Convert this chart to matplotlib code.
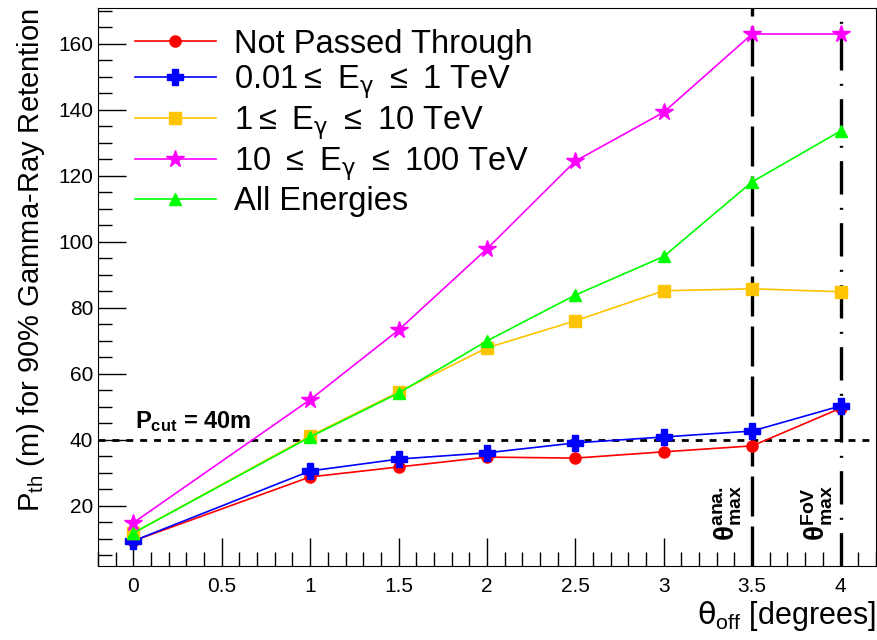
import matplotlib
matplotlib.use("Agg")
import matplotlib.pyplot as plt
from matplotlib.ticker import MultipleLocator

plt.rcParams['font.family'] = ['Liberation Sans', 'DejaVu Sans']
plt.rcParams['mathtext.fontset'] = 'custom'
plt.rcParams['mathtext.rm'] = 'Liberation Sans'
plt.rcParams['mathtext.it'] = 'DejaVu Sans'
plt.rcParams['mathtext.bf'] = 'Liberation Sans:bold'

# offset angle (degrees)
theta_off = [0, 1, 1.5, 2, 2.5, 3, 3.5, 4]

# P_th (m) per selection
not_passed = [9.4, 28.8, 31.8, 34.8, 34.5, 36.4, 38.2, 49.6]
e_low = [9.4, 30.6, 34.2, 36.1, 39.1, 40.9, 42.7, 50.3]
e_mid = [11.8, 41.2, 54.5, 67.9, 76.1, 85.2, 85.8, 84.9]
e_high = [14.9, 52.2, 73.3, 97.9, 124.5, 139.3, 163.0, 163.0]
all_e = [11.8, 40.9, 54.2, 70.0, 83.9, 95.6, 118.2, 133.6]

labels = ['Not Passed Through',
          r'0.01$\leq$ E$_{\gamma}$ $\leq$ 1 TeV',
          r'1$\leq$ E$_{\gamma}$ $\leq$ 10 TeV',
          r'10 $\leq$ E$_{\gamma}$ $\leq$ 100 TeV',
          'All Energies']

p_cut = 40
theta_ana = 3.5
theta_fov = 4

fig = plt.figure(figsize=(8.78, 6.4), dpi=100)
ax = fig.add_axes([0.1116, 0.1156, 0.886, 0.872])

ax.plot(theta_off, not_passed, color='#ff0000', lw=1.2, marker='o', ms=8, label=labels[0])
ax.plot(theta_off, e_low, color='#0000ff', lw=1.2, marker='P', ms=12, label=labels[1])
ax.plot(theta_off, e_mid, color='#ffc400', lw=1.2, marker='s', ms=8, label=labels[2])
ax.plot(theta_off, e_high, color='#ff00ff', lw=1.2, marker='*', ms=13, label=labels[3])
ax.plot(theta_off, all_e, color='#00ff00', lw=1.2, marker='^', ms=8, label=labels[4])

# cut and maximum angle lines
ax.axhline(p_cut, color='black', lw=2, ls=(0, (2.5, 2.5)), zorder=1)
ax.axvline(theta_ana, color='black', lw=2.4, ls=(0, (12, 3)), zorder=1)
ax.axvline(theta_fov, color='black', lw=2.4, ls=(0, (10, 4, 0.6, 4)), zorder=1)

ax.text(0.01, 43.5, r'$\mathbf{P_{cut}}$ = 40m', fontsize=17, fontweight='bold')
ax.text(3.36, 9.5, r'$\mathbf{\theta^{ana.}_{max}}$', fontsize=20, rotation=90,
        ha='center', va='bottom')
ax.text(3.87, 9.5, r'$\mathbf{\theta^{FoV}_{max}}$', fontsize=20, rotation=90,
        ha='center', va='bottom')

ax.set_xlim(-0.2, 4.2)
ax.set_ylim(1.8, 170.9)
ax.xaxis.set_minor_locator(MultipleLocator(0.1))
ax.yaxis.set_minor_locator(MultipleLocator(5))
ax.set_xticks([0, 0.5, 1, 1.5, 2, 2.5, 3, 3.5, 4])
ax.set_xticklabels(['0', '0.5', '1', '1.5', '2', '2.5', '3', '3.5', '4'])
ax.set_yticks([20, 40, 60, 80, 100, 120, 140, 160])
ax.tick_params(which='both', direction='in', top=False, right=False, labelsize=15)
ax.tick_params(which='major', length=20, width=1)
ax.tick_params(which='minor', length=10, width=1)
ax.tick_params(axis='x', pad=8)

ax.set_xlabel(r'$\theta_{\mathrm{off}}$ [degrees]', fontsize=22, loc='right', labelpad=2)
ax.set_ylabel(r'P$_{\mathrm{th}}$ (m) for 90% Gamma-Ray Retention', fontsize=21,
              loc='top', labelpad=8)

ax.legend(loc='upper left', bbox_to_anchor=(0.047, 0.963), frameon=False, fontsize=23.5,
          handlelength=2.5, handletextpad=0.55, labelspacing=0.1,
          borderaxespad=0, borderpad=0)

fig.savefig('out.png', dpi=100)
